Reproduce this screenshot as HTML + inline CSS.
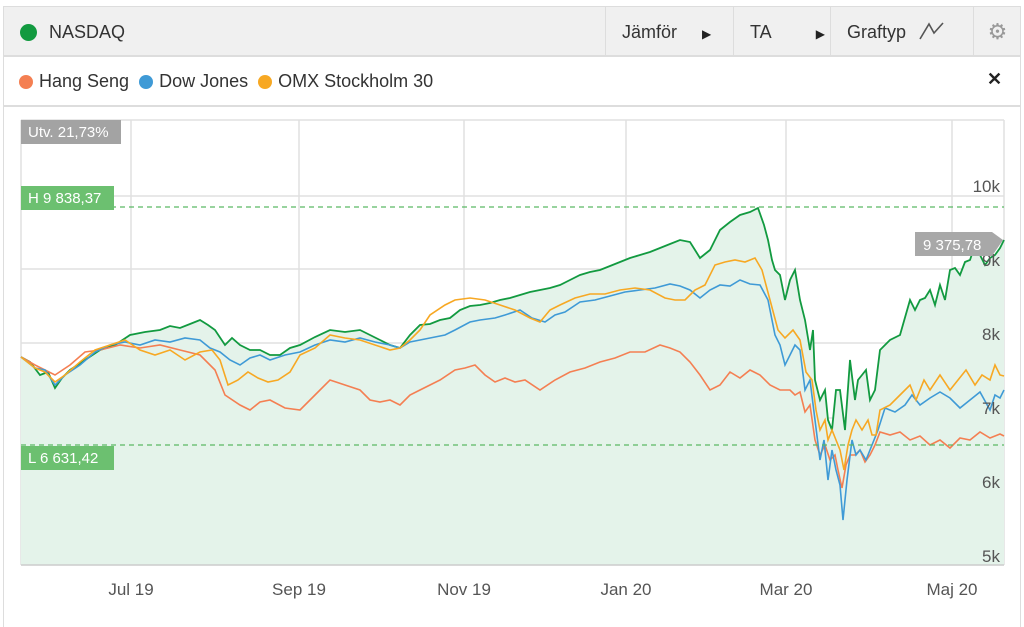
<!DOCTYPE html>
<html><head><meta charset="utf-8"><style>
body{margin:0;background:#fff;font-family:"Liberation Sans",sans-serif;}
.wrap{position:absolute;left:3px;top:6px;width:1016px;height:620px;border:1px solid #ddd;border-bottom:none;}
.hdr{position:absolute;left:0;top:0;width:1016px;height:48px;background:#f0f0f0;border-bottom:2px solid #ddd;}
.hdr div{position:absolute;top:0;height:48px;line-height:50px;font-size:18px;color:#333;}
.sep{border-left:1px solid #ddd;}
.leg{position:absolute;top:50px;left:0;width:1016px;height:48px;border-bottom:2px solid #ddd;}
.dot{display:inline-block;width:14px;height:14px;border-radius:7px;vertical-align:-2px;margin-right:6px;}
</style></head><body>
<div class="wrap">
<div class="hdr">
 <div style="left:16px"><span class="dot" style="background:#129a40;width:17px;height:17px;border-radius:9px;vertical-align:-3px;margin-right:12px"></span>NASDAQ</div>
 <div class="sep" style="left:601px;width:128px;padding-left:16px;box-sizing:border-box">Jämför <span style="font-size:12px;margin-left:20px;color:#222">▶</span></div>
 <div class="sep" style="left:729px;width:97px;padding-left:16px;box-sizing:border-box">TA <span style="font-size:12px;margin-left:40px;color:#222">▶</span></div>
 <div class="sep" style="left:826px;width:143px;padding-left:16px;box-sizing:border-box">Graftyp <svg width="26" height="20" style="vertical-align:-3px;margin-left:8px"><polyline points="1,18 10,3 15,12 24,2" fill="none" stroke="#555" stroke-width="1.6"/></svg></div>
 <div class="sep" style="left:969px;width:47px;text-align:center;color:#999;font-size:22px">⚙</div>
</div>
<div class="leg"></div>
</div>
<div style="position:absolute;left:19px;top:56px;height:48px;line-height:50px;font-size:18px;color:#333">
<span class="dot" style="background:#f47f52"></span>Hang Seng&nbsp; <span class="dot" style="background:#3f9ad6"></span>Dow Jones&nbsp; <span class="dot" style="background:#f7a823"></span>OMX Stockholm 30</div>
<div style="position:absolute;left:987px;top:69px;font-size:18px;font-weight:bold;color:#222">✕</div>
<svg width="1024" height="604" style="position:absolute;left:0;top:0" font-family="Liberation Sans, sans-serif">
<g stroke="#e0e0e0" stroke-width="1.5">
<line x1="21" y1="120" x2="1004" y2="120"/>
<line x1="21" y1="196" x2="1004" y2="196"/><line x1="21" y1="269" x2="1004" y2="269"/><line x1="21" y1="343" x2="1004" y2="343"/><line x1="21" y1="418" x2="1004" y2="418"/><line x1="21" y1="491" x2="1004" y2="491"/>
<line x1="21" y1="120" x2="21" y2="565"/><line x1="131" y1="120" x2="131" y2="565"/><line x1="299" y1="120" x2="299" y2="565"/><line x1="464" y1="120" x2="464" y2="565"/><line x1="626" y1="120" x2="626" y2="565"/><line x1="786" y1="120" x2="786" y2="565"/><line x1="952" y1="120" x2="952" y2="565"/><line x1="1004" y1="120" x2="1004" y2="565"/>
</g>
<polygon fill="#e4f3ea" points="21,565 21,357 30,362 40,375 48,372 55,388 62,378 70,370 85,360 100,350 115,345 130,335 145,332 160,330 170,326 180,328 190,324 200,320 208,325 215,330 225,345 232,338 240,345 250,350 260,350 270,355 280,355 290,348 300,345 315,337 330,330 345,332 360,330 370,335 380,340 390,345 400,348 410,335 420,325 430,324 440,320 450,318 460,310 470,306 480,305 490,303 500,300 510,298 520,295 530,292 540,290 550,288 560,285 570,280 580,275 590,272 600,270 610,266 620,262 630,258 640,255 650,252 660,248 670,244 680,240 690,242 695,250 700,258 705,254 710,250 715,240 720,230 730,222 740,215 750,212 758,208 764,225 768,240 772,260 775,270 780,275 785,300 790,280 795,270 800,300 805,320 810,350 813,330 815,380 820,400 825,390 828,420 832,430 836,390 840,390 845,430 850,360 855,400 858,380 862,375 866,370 870,400 875,390 880,350 885,345 890,340 900,335 910,300 915,310 920,300 925,298 930,290 935,305 940,285 945,300 950,270 955,268 960,275 965,262 970,260 975,245 980,255 985,265 990,258 995,255 1000,248 1004,240 1004,565"/>
<polyline fill="none" stroke="#129a40" stroke-width="1.8" points="21,357 30,362 40,375 48,372 55,388 62,378 70,370 85,360 100,350 115,345 130,335 145,332 160,330 170,326 180,328 190,324 200,320 208,325 215,330 225,345 232,338 240,345 250,350 260,350 270,355 280,355 290,348 300,345 315,337 330,330 345,332 360,330 370,335 380,340 390,345 400,348 410,335 420,325 430,324 440,320 450,318 460,310 470,306 480,305 490,303 500,300 510,298 520,295 530,292 540,290 550,288 560,285 570,280 580,275 590,272 600,270 610,266 620,262 630,258 640,255 650,252 660,248 670,244 680,240 690,242 695,250 700,258 705,254 710,250 715,240 720,230 730,222 740,215 750,212 758,208 764,225 768,240 772,260 775,270 780,275 785,300 790,280 795,270 800,300 805,320 810,350 813,330 815,380 820,400 825,390 828,420 832,430 836,390 840,390 845,430 850,360 855,400 858,380 862,375 866,370 870,400 875,390 880,350 885,345 890,340 900,335 910,300 915,310 920,300 925,298 930,290 935,305 940,285 945,300 950,270 955,268 960,275 965,262 970,260 975,245 980,255 985,265 990,258 995,255 1000,248 1004,240"/>
<polyline fill="none" stroke="#f47f52" stroke-width="1.6" points="21,357 35,365 55,375 70,365 85,352 100,350 120,345 140,348 160,345 180,350 200,355 215,370 225,395 240,405 250,410 260,402 270,400 285,408 300,410 315,395 330,380 345,385 360,390 370,400 380,402 390,400 400,405 410,395 420,390 430,385 440,380 455,370 465,368 475,365 485,375 495,382 505,378 515,382 525,380 540,390 555,380 570,372 585,368 600,362 615,358 630,352 645,352 660,345 670,348 680,352 690,362 700,375 710,390 720,385 730,372 740,378 750,370 760,375 770,385 780,390 790,390 795,395 800,392 805,412 810,405 815,440 820,455 825,445 830,460 835,455 838,470 842,488 846,465 850,455 855,455 860,450 865,462 870,455 875,445 880,432 890,435 900,432 910,440 920,436 930,445 940,440 950,448 960,438 970,440 980,432 990,438 1000,434 1004,436"/>
<polyline fill="none" stroke="#3f9ad6" stroke-width="1.6" points="21,357 35,368 45,370 55,385 65,375 80,365 95,352 110,345 125,342 140,345 155,340 170,342 185,338 200,340 210,348 220,352 230,360 240,365 250,358 260,355 270,360 285,355 300,352 315,345 330,340 345,342 360,338 375,342 390,345 400,348 410,342 420,340 430,338 445,335 455,330 470,322 480,320 495,318 505,315 520,310 532,318 545,322 555,315 565,312 580,302 595,300 610,296 625,292 640,290 655,288 670,284 680,286 690,290 700,298 710,290 720,285 730,286 740,280 750,284 760,285 768,300 775,335 780,345 785,365 790,355 795,345 800,350 805,390 810,380 815,420 820,460 824,440 828,480 832,450 836,470 840,485 843,520 847,480 852,440 856,455 860,450 866,460 872,445 878,430 885,408 895,412 905,405 912,395 920,405 930,398 940,392 950,398 960,408 970,400 980,392 990,410 995,395 1000,398 1004,390"/>
<polyline fill="none" stroke="#f7a823" stroke-width="1.6" points="21,357 35,368 45,372 55,382 65,375 80,362 95,350 110,345 125,340 140,350 155,355 170,350 185,360 200,352 212,350 220,360 228,385 238,380 248,372 258,378 268,382 278,380 290,372 300,355 315,348 330,335 345,338 360,340 375,345 390,350 400,348 410,340 420,330 430,315 445,305 455,300 470,298 485,300 500,305 515,310 530,318 540,322 550,310 560,305 575,298 590,294 605,294 620,290 635,288 650,290 665,298 675,300 685,300 695,290 705,285 715,265 725,262 735,260 745,262 755,258 762,270 770,300 778,330 785,338 793,330 800,340 806,372 812,380 816,410 820,430 825,420 828,440 832,430 836,440 840,450 844,470 848,445 852,430 856,420 862,430 868,420 872,435 876,435 880,410 890,405 900,395 910,385 916,400 924,380 930,390 940,375 950,390 958,380 966,370 975,385 982,375 990,380 995,365 1000,375 1004,376"/>
<line x1="21" y1="207" x2="1004" y2="207" stroke="#5ab964" stroke-width="1.2" stroke-dasharray="5,4"/>
<line x1="21" y1="445" x2="1004" y2="445" stroke="#5ab964" stroke-width="1.2" stroke-dasharray="5,4"/>
<line x1="21" y1="565" x2="1004" y2="565" stroke="#ccc" stroke-width="1.5"/>
<g font-size="17" fill="#555" text-anchor="end">
<text x="1000" y="192">10k</text><text x="1000" y="266">9k</text><text x="1000" y="340">8k</text><text x="1000" y="414">7k</text><text x="1000" y="488">6k</text><text x="1000" y="562">5k</text>
</g>
<g font-size="17" fill="#555" text-anchor="middle">
<text x="131" y="595">Jul 19</text><text x="299" y="595">Sep 19</text><text x="464" y="595">Nov 19</text><text x="626" y="595">Jan 20</text><text x="786" y="595">Mar 20</text><text x="952" y="595">Maj 20</text>
</g>
<rect x="21" y="120" width="100" height="24" fill="#a3a3a3"/><text x="28" y="137" font-size="15" fill="#fff">Utv. 21,73%</text>
<rect x="21" y="186" width="93" height="24" fill="#6cc070"/><text x="28" y="203" font-size="15" fill="#fff">H 9 838,37</text>
<rect x="21" y="446" width="93" height="24" fill="#6cc070"/><text x="28" y="463" font-size="15" fill="#fff">L 6 631,42</text>
<polygon points="915,232 992,232 1003,240 992,256 915,256" fill="#a8a8a8"/><text x="923" y="250" font-size="15" fill="#fff">9 375,78</text>
</svg>
</body></html>
